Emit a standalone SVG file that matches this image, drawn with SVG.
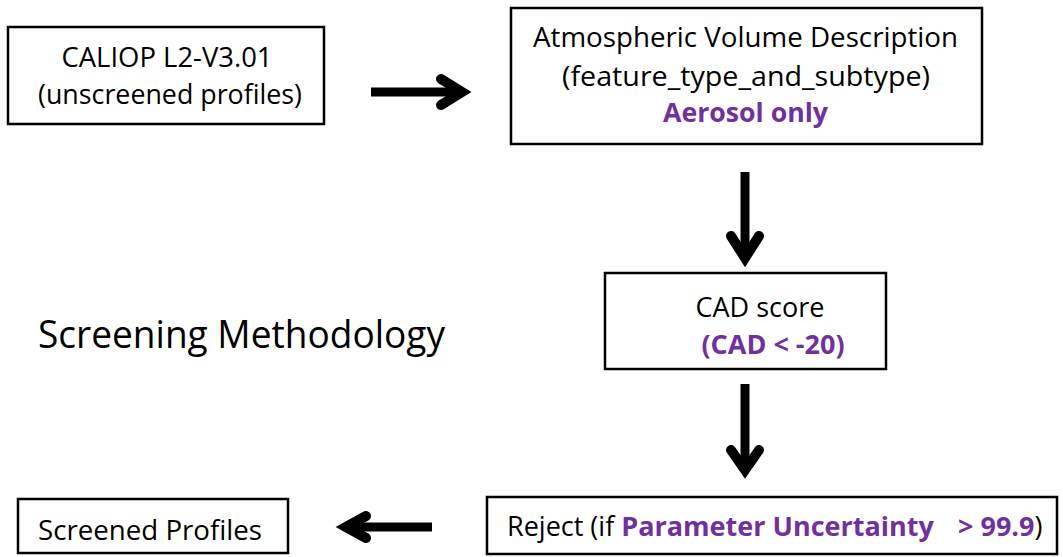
<svg xmlns="http://www.w3.org/2000/svg" width="1063" height="557" viewBox="0 0 1063 557">
<style>
.box{fill:#fff;stroke:#000;stroke-width:2.5}
.t{font-family:"Open Sans","Noto Sans",sans-serif;font-size:27px;fill:#000}
.c{text-anchor:middle}
.p{fill:#7030A0;font-weight:bold}
.shaft{stroke:#000;stroke-width:9;fill:none}
.head{stroke:#000;stroke-width:10;fill:none;stroke-linecap:round;stroke-linejoin:miter;stroke-miterlimit:4}
</style>
<rect width="1063" height="557" fill="#fff"/>
<g id="caliop">
<rect class="box" x="8" y="27" width="316" height="97"/>
<text class="t c" x="167" y="67" textLength="211" lengthAdjust="spacingAndGlyphs">CALIOP L2-V3.01</text>
<text class="t c" x="170" y="104" textLength="264" lengthAdjust="spacingAndGlyphs">(unscreened profiles)</text>
</g>
<g id="atmos">
<rect class="box" x="511" y="8" width="471" height="136"/>
<text class="t c" x="745.5" y="47" textLength="425" lengthAdjust="spacingAndGlyphs">Atmospheric Volume Description</text>
<text class="t c" x="746" y="86" textLength="368" lengthAdjust="spacingAndGlyphs">(feature_type_and_subtype)</text>
<text class="t c p" x="745.5" y="122" textLength="165" lengthAdjust="spacingAndGlyphs">Aerosol only</text>
</g>
<g id="cad">
<rect class="box" x="605" y="273" width="281" height="96"/>
<text class="t c" x="760" y="317">CAD score</text>
<text class="t c p" x="773" y="354">(CAD &lt; -20)</text>
</g>
<g id="title">
<text class="t" x="38" y="348" style="font-size:38px" textLength="407" lengthAdjust="spacingAndGlyphs">Screening Methodology</text>
</g>
<g id="reject">
<rect class="box" x="487" y="497" width="570" height="57"/>
<text class="t" x="507" y="536">Reject (if <tspan class="p">Parameter Uncertainty</tspan><tspan class="p" x="958">&gt; 99.9</tspan>)</text>
</g>
<g id="screened">
<rect class="box" x="18" y="499" width="270" height="54"/>
<text class="t" x="38" y="540" textLength="224" lengthAdjust="spacingAndGlyphs">Screened Profiles</text>
</g>
<g id="connectors">
<line class="shaft" x1="371" y1="92" x2="460" y2="92"/>
<polyline class="head" points="441,79 462,92 441,105"/>
<line class="shaft" x1="745" y1="172" x2="745" y2="256"/>
<polyline class="head" points="731,236 745,258 759,236"/>
<line class="shaft" x1="745" y1="384" x2="745" y2="468"/>
<polyline class="head" points="731,450 745,470 759,450"/>
<line class="shaft" x1="432" y1="527" x2="348" y2="527"/>
<polyline class="head" points="366,516 346,527 366,538"/>
</g>
</svg>
